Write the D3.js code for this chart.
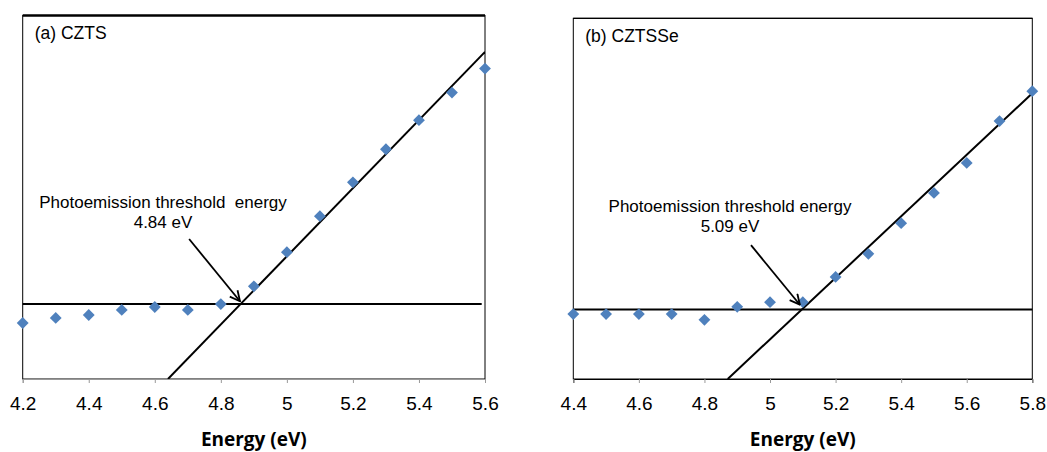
<!DOCTYPE html>
<html>
<head>
<meta charset="utf-8">
<script src="https://cdn.jsdelivr.net/npm/d3@7"></script>
<style>
  body { margin: 0; background: #fff; }
  svg { display: block; }
  text { font-family: "Liberation Sans", Arial, sans-serif; fill: #000; }
</style>
</head>
<body>
<svg id="chart" width="1047" height="452"></svg>
<script>
// data (y is arbitrary units, 0 at the x axis)
var energyA = [4.2, 4.3, 4.4, 4.5, 4.6, 4.7, 4.8, 4.9, 5.0, 5.1, 5.2, 5.3, 5.4, 5.5, 5.6];
var signalA = [15.4, 16.8, 17.6, 19.0, 19.8, 19.0, 20.6, 25.5, 34.9, 44.8, 54.1, 63.2, 71.2, 78.8, 85.4];
var ticksA = [4.2, 4.4, 4.6, 4.8, 5.0, 5.2, 5.4, 5.6];
var fitA = [[4.64, 0], [5.6, 90.0]];
var baseA = [[4.2, 20.6], [5.59, 20.6]];
var arrowA = [[4.704, 38.5], [4.858, 21.4]];

var energyB = [4.4, 4.5, 4.6, 4.7, 4.8, 4.9, 5.0, 5.1, 5.2, 5.3, 5.4, 5.5, 5.6, 5.7, 5.8];
var signalB = [18.0, 18.0, 18.0, 18.0, 16.4, 20.0, 21.3, 21.3, 28.3, 34.7, 43.2, 51.6, 59.9, 71.5, 79.8];
var ticksB = [4.4, 4.6, 4.8, 5.0, 5.2, 5.4, 5.6, 5.8];
var fitB = [[4.871, 0], [5.8, 79.2]];
var baseB = [[4.4, 19.3], [5.8, 19.3]];
var arrowB = [[4.942, 37.1], [5.091, 20.6]];

var svg = d3.select("#chart");

// open arrow head
svg.append("defs").append("marker")
    .attr("id", "head")
    .attr("viewBox", "0 -6 12 12")
    .attr("refX", 11)
    .attr("refY", 0)
    .attr("markerWidth", 12)
    .attr("markerHeight", 12)
    .attr("markerUnits", "userSpaceOnUse")
    .attr("orient", "auto")
    .append("path")
    .attr("d", "M1,-5L11,0L1,5")
    .attr("fill", "none")
    .attr("stroke", "#000")
    .attr("stroke-width", 1.8);

function drawPanel(p) {
    var x = d3.scaleLinear().domain(p.xDomain).range([p.left, p.right]);
    var y = d3.scaleLinear().domain([0, 100]).range([p.bottom, p.top]);
    var g = svg.append("g");

    // clip the fit line to the plot area
    g.append("clipPath").attr("id", p.id + "-clip")
        .append("rect")
        .attr("x", p.left).attr("y", p.top)
        .attr("width", p.right - p.left).attr("height", p.bottom - p.top);

    // plot box
    g.append("rect")
        .attr("x", p.left).attr("y", p.top)
        .attr("width", p.right - p.left).attr("height", p.bottom - p.top)
        .attr("fill", "none").attr("stroke", "#000").attr("stroke-width", 1);
    g.append("line")
        .attr("x1", p.left).attr("x2", p.right)
        .attr("y1", p.top).attr("y2", p.top)
        .attr("stroke", "#000").attr("stroke-width", p.topWidth);

    // x axis
    var axis = g.append("g")
        .attr("transform", "translate(0," + p.bottom + ")")
        .call(d3.axisBottom(x).tickValues(p.ticks).tickSize(4).tickPadding(14)
            .tickFormat(function (d) { return String(+d.toFixed(1)); }));
    axis.select(".domain").attr("stroke", p.axisColor);
    axis.selectAll(".tick line").attr("stroke", "#999");
    axis.selectAll(".tick text")
        .attr("font-family", "Liberation Sans, Arial, sans-serif")
        .attr("font-size", 19).attr("fill", "#222");

    g.append("text")
        .attr("x", (p.left + p.right) / 2).attr("y", 446)
        .attr("text-anchor", "middle")
        .style("font-family", "'Open Sans', sans-serif")
        .style("font-weight", "bold").style("font-size", "19px")
        .text("Energy (eV)");

    var line = d3.line().x(function (d) { return x(d[0]); }).y(function (d) { return y(d[1]); });

    g.append("path").datum(p.base).attr("d", line)
        .attr("fill", "none").attr("stroke", "#000").attr("stroke-width", 2);
    g.append("path").datum(p.fit).attr("d", line)
        .attr("clip-path", "url(#" + p.id + "-clip)")
        .attr("fill", "none").attr("stroke", "#000").attr("stroke-width", 2);

    // markers
    g.selectAll(".pt").data(d3.zip(p.energy, p.signal)).enter()
        .append("path")
        .attr("class", "pt")
        .attr("d", d3.symbol().type(d3.symbolSquare).size(70))
        .attr("transform", function (d) { return "translate(" + x(d[0]) + "," + y(d[1]) + ") rotate(45)"; })
        .attr("fill", "#4F81BD");

    g.append("path").datum(p.arrow).attr("d", line)
        .attr("fill", "none").attr("stroke", "#000").attr("stroke-width", 1.8)
        .attr("marker-end", "url(#head)");

    g.append("text")
        .attr("x", p.left + 12).attr("y", p.top + p.labelDy)
        .style("font-size", "17.5px")
        .text(p.label);

    var note = g.append("text")
        .attr("text-anchor", "middle")
        .style("font-size", "17px")
        .style("white-space", "pre");
    note.append("tspan").attr("x", p.noteX).attr("y", p.noteY).text(p.note1);
    note.append("tspan").attr("x", p.noteX).attr("y", p.noteY + 20).text(p.note2);
}

drawPanel({
    id: "a", left: 22.7, right: 485, top: 15.5, bottom: 379, topWidth: 2.5,
    xDomain: [4.2, 5.6], ticks: ticksA, energy: energyA, signal: signalA,
    fit: fitA, base: baseA, arrow: arrowA, axisColor: "#999",
    label: "(a) CZTS", labelDy: 23.5,
    note1: "Photoemission threshold  energy", note2: "4.84 eV", noteX: 163, noteY: 207.7
});

drawPanel({
    id: "b", left: 573.3, right: 1032.3, top: 18.3, bottom: 379, topWidth: 1.2,
    xDomain: [4.4, 5.8], ticks: ticksB, energy: energyB, signal: signalB,
    fit: fitB, base: baseB, arrow: arrowB, axisColor: "#000",
    label: "(b) CZTSSe", labelDy: 23.4,
    note1: "Photoemission threshold energy", note2: "5.09 eV", noteX: 730, noteY: 211.7
});
</script>
</body>
</html>
